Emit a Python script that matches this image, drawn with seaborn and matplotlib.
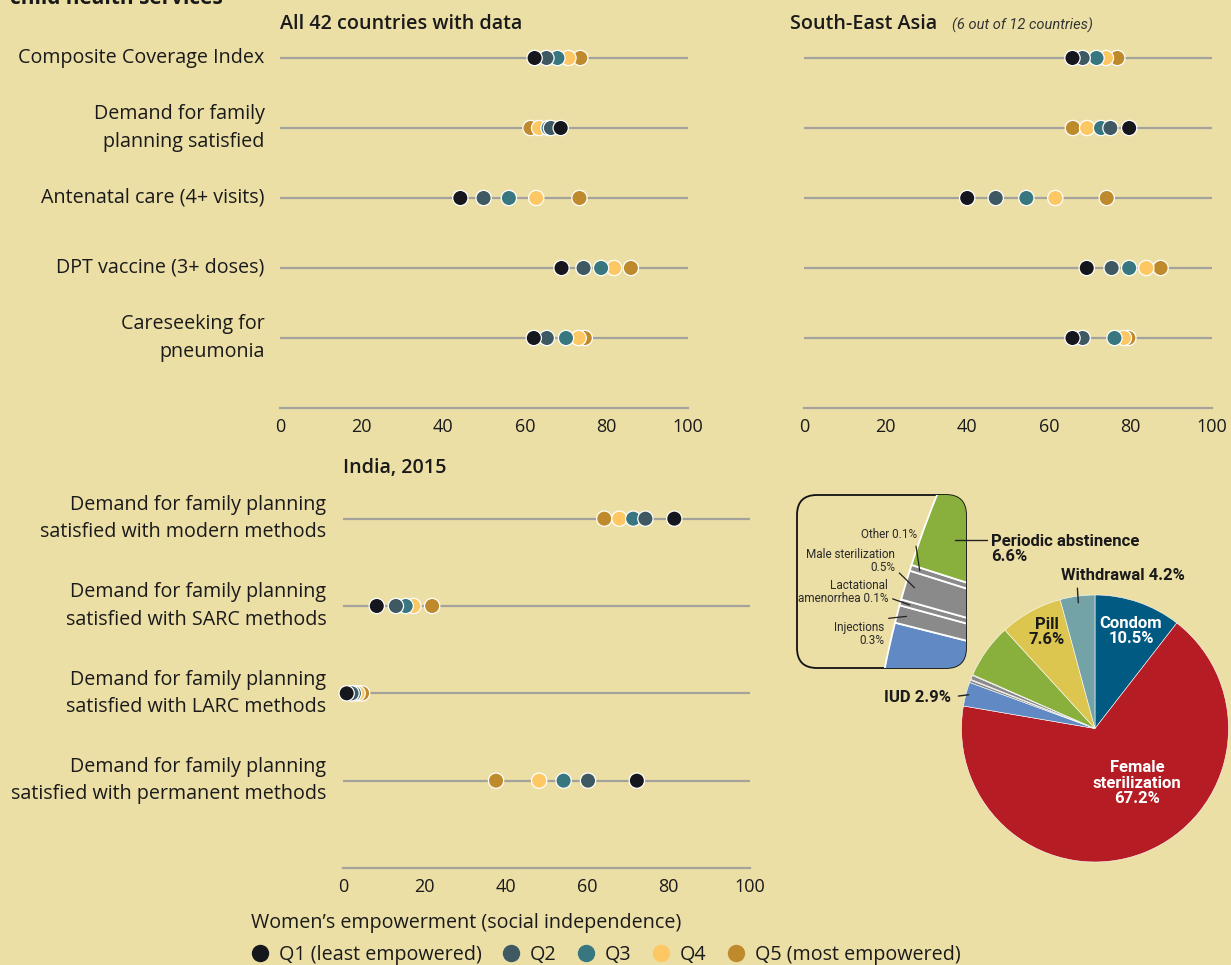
import numpy as np
import pandas as pd
import matplotlib
matplotlib.use("Agg")
import matplotlib.pyplot as plt
import seaborn as sns
from matplotlib.lines import Line2D
from matplotlib.patches import FancyBboxPatch
from matplotlib.transforms import IdentityTransform

# ---------------- data ----------------
quintiles = ["Q1", "Q2", "Q3", "Q4", "Q5"]
quintile_labels = ["Q1 (least empowered)", "Q2", "Q3", "Q4", "Q5 (most empowered)"]
quintile_colors = ["#16161d", "#3e5962", "#38777f", "#fdc863", "#bf8a2b"]

indicators = ["Composite Coverage Index",
              "Demand for family\nplanning satisfied",
              "Antenatal care (4+ visits)",
              "DPT vaccine (3+ doses)",
              "Careseeking for\npneumonia"]

all42_q1 = [62.4, 68.8, 44.2, 69.0, 62.2]
all42_q2 = [65.3, 66.4, 49.9, 74.4, 65.4]
all42_q3 = [68.0, 65.8, 56.1, 78.7, 70.1]
all42_q4 = [70.7, 63.5, 62.8, 81.9, 73.2]
all42_q5 = [73.6, 61.4, 73.4, 86.0, 74.7]

sea_q1 = [65.8, 79.7, 40.0, 69.3, 65.8]
sea_q2 = [68.3, 75.1, 47.0, 75.4, 68.3]
sea_q3 = [71.7, 72.8, 54.5, 79.7, 76.1]
sea_q4 = [74.0, 69.4, 61.6, 83.9, 78.4]
sea_q5 = [76.8, 65.9, 74.2, 87.4, 79.5]

india_indicators = ["Demand for family planning\nsatisfied with modern methods",
                    "Demand for family planning\nsatisfied with SARC methods",
                    "Demand for family planning\nsatisfied with LARC methods",
                    "Demand for family planning\nsatisfied with permanent methods"]
india_q1 = [81.4, 8.3, 0.9, 72.2]
india_q2 = [74.3, 13.0, 2.1, 60.2]
india_q3 = [71.3, 15.4, 2.7, 54.2]
india_q4 = [67.9, 17.3, 3.6, 48.2]
india_q5 = [64.2, 21.9, 4.7, 37.6]

x_ticks = [0, 20, 40, 60, 80, 100]

methods = ["Condom", "Female sterilization", "IUD", "Injections",
           "Lactational amenorrhea", "Male sterilization", "Other",
           "Periodic abstinence", "Pill", "Withdrawal"]
method_share = [10.5, 67.2, 2.9, 0.3, 0.1, 0.5, 0.1, 6.6, 7.6, 4.2]
method_colors = ["#015a81", "#b51c24", "#6189c3", "#8a8a8a", "#8a8a8a",
                 "#8a8a8a", "#8a8a8a", "#89b03d", "#dcc650", "#74a3a7"]

# ---------------- style ----------------
BG = "#ebdfa6"
LINE = "#a3a29c"
TXT = "#1a1a1a"
sns.set_theme(style="white")
plt.rcParams["font.family"] = ["Open Sans", "DejaVu Sans"]
plt.rcParams["text.color"] = TXT
NARROW = ["Liberation Sans Narrow", "Roboto", "DejaVu Sans"]
PIEFONT = ["Roboto", "DejaVu Sans"]
FS = 14.2
TFS = 13

W, H = 1231, 965
fig = plt.figure(figsize=(W / 100, H / 100), dpi=100, facecolor=BG)


def fx(x):
    return x / W


def fy(y):
    return 1 - y / H


def add_axes_px(left, top, right, bottom, **kw):
    return fig.add_axes([left / W, 1 - bottom / H, (right - left) / W, (bottom - top) / H], **kw)


def long_frame(labels, q_lists):
    rows = []
    # draw Q5 first so that Q1 ends on top
    for q, vals in reversed(list(zip(quintiles, q_lists))):
        for lab, v in zip(labels, vals):
            rows.append({"indicator": lab, "quintile": q, "value": v})
    return pd.DataFrame(rows)


def dot_panel(ax, labels, q_lists, show_labels=True, pad=11):
    df = long_frame(labels, q_lists)
    sns.stripplot(data=df, x="value", y="indicator", hue="quintile",
                  order=labels, hue_order=quintiles, palette=quintile_colors,
                  jitter=False, size=11, linewidth=0.9, edgecolor="white",
                  legend=False, ax=ax, zorder=3)
    for c in ax.collections:
        c.set_clip_on(False)
    ax.hlines(range(len(labels)), 0, 100, color=LINE, lw=1.6, zorder=1)
    ax.set_facecolor("none")
    ax.set_xlim(0, 100)
    ax.set_xticks(x_ticks)
    ax.set_xlabel("")
    ax.set_ylabel("")
    for s in ["top", "right", "left"]:
        ax.spines[s].set_visible(False)
    ax.spines["bottom"].set_color(LINE)
    ax.spines["bottom"].set_linewidth(1.6)
    ax.tick_params(axis="x", length=0, labelsize=TFS, colors=TXT, pad=7)
    ax.tick_params(axis="y", length=0, labelsize=FS, colors=TXT, pad=pad)
    if not show_labels:
        ax.tick_params(axis="y", labelleft=False)
    else:
        for t in ax.get_yticklabels():
            t.set_linespacing(1.5)
            t.set_verticalalignment("center")


# ---------------- dot panels ----------------
ax1 = add_axes_px(280, 23, 688, 408)
dot_panel(ax1, indicators, [all42_q1, all42_q2, all42_q3, all42_q4, all42_q5])
ax1.set_ylim(5.0, -0.5)

ax2 = add_axes_px(804, 23, 1212, 408)
dot_panel(ax2, indicators, [sea_q1, sea_q2, sea_q3, sea_q4, sea_q5], show_labels=False)
ax2.set_ylim(5.0, -0.5)

ax3 = add_axes_px(343, 475, 750, 868)
dot_panel(ax3, india_indicators, [india_q1, india_q2, india_q3, india_q4, india_q5], pad=12)
ax3.set_ylim(4.0, -0.5)

# titles
fig.text(fx(10), fy(4), "child health services", fontsize=15, fontweight="bold", va="baseline")
fig.text(fx(280), fy(24), "All 42 countries with data", fontsize=FS, fontweight="semibold", va="center")
fig.text(fx(790), fy(24), "South-East Asia", fontsize=FS, fontweight="semibold", va="center")
fig.text(fx(952), fy(25), "(6 out of 12 countries)", fontsize=10.5, style="italic",
         family=NARROW, va="center", color="#333333")
fig.text(fx(343), fy(468), "India, 2015", fontsize=FS, fontweight="semibold", va="center")

# ---------------- legend ----------------
handles = [Line2D([0], [0], marker="o", ls="none", markersize=11.5,
                  markerfacecolor=c, markeredgecolor=c) for c in quintile_colors]
leg = fig.legend(handles, quintile_labels, loc="upper left",
                 bbox_to_anchor=(fx(251), fy(913)), ncol=5, frameon=False,
                 title="Women’s empowerment (social independence)",
                 title_fontsize=FS, fontsize=FS, handlelength=0.9,
                 handletextpad=0.5, columnspacing=1.05, alignment="left",
                 borderaxespad=0, borderpad=0, labelspacing=0.6)

# ---------------- pie ----------------
cx, cy, R = 1095, 728.5, 133.5
lim = 1.05
axp = add_axes_px(cx - R * lim, cy - R * lim, cx + R * lim, cy + R * lim, zorder=0)
wedges, _ = axp.pie(method_share, colors=method_colors, startangle=90,
                    counterclock=False, radius=1,
                    wedgeprops=dict(edgecolor="white", linewidth=0.4))
axp.set_xlim(-lim, lim)
axp.set_ylim(-lim, lim)
axp.set_aspect("auto")
axp.axis("off")


def wedge_point(w, r):
    a = np.deg2rad((w.theta1 + w.theta2) / 2)
    return r * np.cos(a), r * np.sin(a)


label_kw = dict(fontsize=12, fontweight="semibold", ha="center", va="center",
                linespacing=1.05, family=PIEFONT)
fig.text(fx(1131), fy(631), "Condom\n10.5%", color="white", **label_kw)
fig.text(fx(1137), fy(783), "Female\nsterilization\n67.2%", color="white", **label_kw)
fig.text(fx(1047), fy(632), "Pill\n7.6%", color=TXT, **label_kw)

idx = {m: i for i, m in enumerate(methods)}
axp.annotate("Withdrawal 4.2%", xy=wedge_point(wedges[idx["Withdrawal"]], 0.95),
             xytext=(fx(1061), fy(576)), textcoords="figure fraction",
             fontsize=12, fontweight="semibold", family=PIEFONT, ha="left", va="center",
             arrowprops=dict(arrowstyle="-", color="#222222", lw=1, relpos=(0.13, 0),
                             shrinkA=1, shrinkB=0),
             annotation_clip=False)
axp.annotate("IUD 2.9%", xy=wedge_point(wedges[idx["IUD"]], 0.98),
             xytext=(fx(951), fy(697)), textcoords="figure fraction",
             fontsize=12, fontweight="semibold", family=PIEFONT, ha="right", va="center",
             arrowprops=dict(arrowstyle="-", color="#222222", lw=1, relpos=(1, 0.5),
                             shrinkA=3, shrinkB=0),
             annotation_clip=False)
fig.text(fx(991), fy(549), "Periodic abstinence\n6.6%", fontsize=12, fontweight="semibold",
         family=PIEFONT, ha="left", va="center", linespacing=1.05)

# ---------------- inset (magnified, slightly rotated view) ----------------
bx0, by0, bx1, by1 = 797, 495, 966, 668
box = FancyBboxPatch((bx0, H - by1), bx1 - bx0, by1 - by0,
                     boxstyle="round,pad=0,rounding_size=20",
                     transform=IdentityTransform(), facecolor=BG,
                     edgecolor="#111111", linewidth=1.3, zorder=1)
fig.add_artist(box)
axi = add_axes_px(bx0, by0, bx1, by1, zorder=2)
wi, _ = axi.pie(method_share, colors=method_colors, startangle=96,
                counterclock=False, radius=1,
                wedgeprops=dict(edgecolor="white", linewidth=1.3))
axi.set_aspect("auto")
axi.set_xlim(-1.0723, -0.8953)
axi.set_ylim(0.1972, 0.3782)
axi.axis("off")
for w in wi:
    w.set_clip_on(True)
    w.set_clip_path(box)

fig.add_artist(Line2D([fx(955), fx(987)], [fy(540), fy(540)], color="#222222", lw=1,
                      transform=fig.transFigure, zorder=5))

inset_labels = [("Other", "Other 0.1%", 917, 535, (0.97, 0.0)),
                ("Male sterilization", "Male sterilization\n0.5%", 895, 561, (1.0, 0.2)),
                ("Lactational amenorrhea", "Lactational\namenorrhea 0.1%", 888, 592, (1.0, 0.3)),
                ("Injections", "Injections\n0.3%", 884, 634, (0.6, 1.0))]
for key, txt, tx, ty, rp in inset_labels:
    axi.annotate(txt, xy=wedge_point(wi[idx[key]], 0.99), xytext=(fx(tx), fy(ty)),
                 textcoords="figure fraction", fontsize=8.5, family=NARROW,
                 color="#2a2a2a", ha="right", va="center", linespacing=1.0,
                 arrowprops=dict(arrowstyle="-", color="#222222", lw=0.9, relpos=rp,
                                 shrinkA=1, shrinkB=0),
                 annotation_clip=False, zorder=6)

fig.savefig("out.png", dpi=100, facecolor=BG)
